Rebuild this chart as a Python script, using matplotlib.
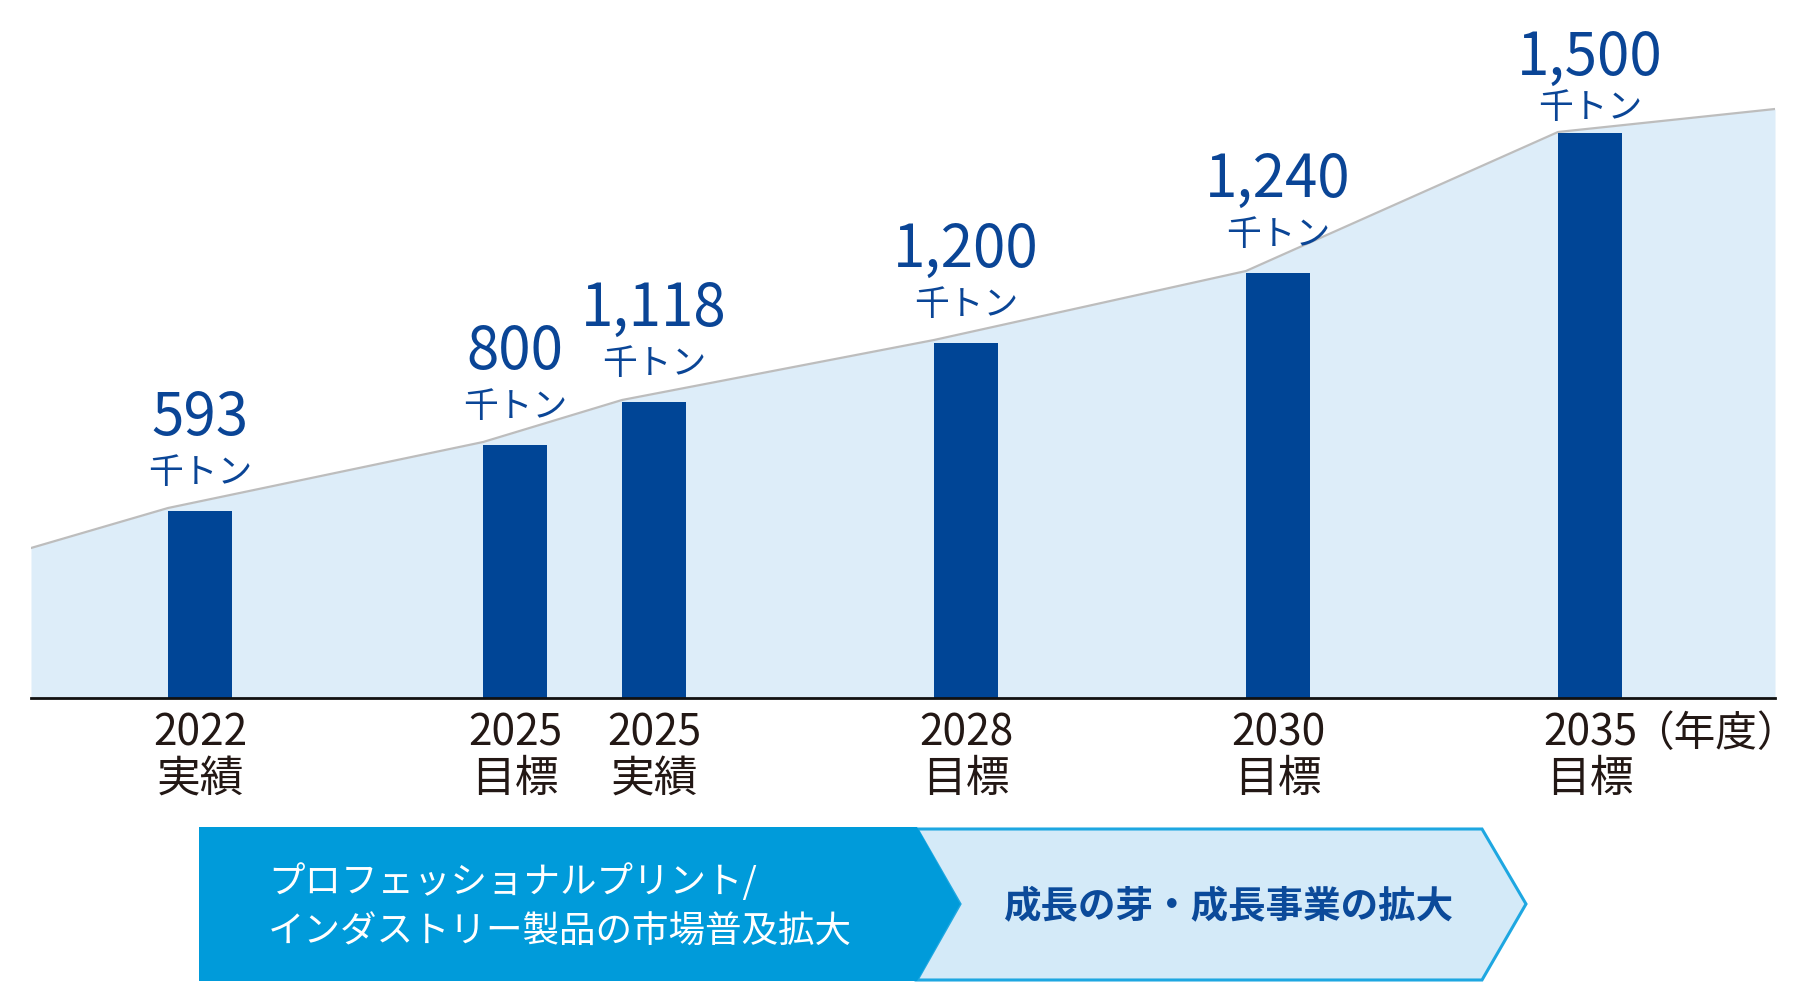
import matplotlib.pyplot as plt
from matplotlib.patches import Polygon

plt.rcParams['font.family'] = ['Noto Sans CJK JP', 'DejaVu Sans']

# data
years = ['2022', '2025', '2025', '2028', '2030', '2035']
kinds = ['実績', '目標', '実績', '目標', '目標', '目標']
values = [593, 800, 1118, 1200, 1240, 1500]
unit = '千トン'
# bar heights as drawn in the picture (the chart is not to scale)
bar_height = [187, 253, 296, 355, 425, 565]
# grey trend line: left end, one point per bar, right end
trend_height = [150, 190, 256, 298, 358, 427, 566, 589]

band_left = ['プロフェッショナルプリント/', 'インダストリー製品の市場普及拡大']
band_right = '成長の芽・成長事業の拡大'
year_unit = '（年度）'

# colours
c_bar = '#004596'
c_text = '#0A4596'
c_area = '#DDEDF9'
c_line = '#BDBDBD'
c_dark = '#009BDA'
c_light = '#D4EAF8'
c_edge = '#1EA7E1'
c_black = '#231815'

# slots: 2025 target and actual sit close together
slot = [0, 1.01, 1.455, 2.455, 3.455, 4.455]
bw = 0.205
x0, x1 = -0.5417, 5.048

fig = plt.figure(figsize=(18, 10), dpi=100)
ax = fig.add_axes([31 / 1800, 0.302, (1775 - 31) / 1800, 0.698])
ax.set_xlim(x0, x1)
ax.set_ylim(0, 698)
ax.axis('off')

tx = [x0] + [s - bw / 2 for s in slot] + [x1]
ax.fill_between(tx, trend_height, 0, color=c_area, lw=0, zorder=1)
ax.plot(tx, trend_height, color=c_line, lw=1.6, zorder=2)
ax.bar(slot, bar_height, width=bw, color=c_bar, zorder=3)
ax.axhline(0, color='#111111', lw=2, zorder=4, clip_on=False)

for i, (s, h, v) in enumerate(zip(slot, bar_height, values)):
    last = i == len(values) - 1
    num_off = 42 if last else 54.5
    unit_off = 17.5 if last else 27
    ax.annotate(f'{v:,}', (s, h), xytext=(0, num_off), textcoords='offset points',
                ha='center', va='baseline', fontsize=42, color=c_text)
    ax.annotate(unit, (s, h), xytext=(0, unit_off), textcoords='offset points',
                ha='center', va='center', fontsize=25, color=c_text)
    ax.annotate(years[i], (s, 0), xytext=(0, -25.5), textcoords='offset points',
                ha='center', va='center', fontsize=30.5, color=c_black)
    ax.annotate(kinds[i], (s, 0), xytext=(0, -58.5), textcoords='offset points',
                ha='center', va='center', fontsize=31.5, color=c_black)

# arrow bands at the bottom
ov = fig.add_axes([0, 0, 1, 1])
ov.set_xlim(0, 1800)
ov.set_ylim(1000, 0)
ov.axis('off')

ov.text(1799, 734, year_unit, ha='right', va='center', fontsize=30, color=c_black)

ov.add_patch(Polygon([(917, 829), (1482, 829), (1526, 904), (1482, 980),
                      (917, 980), (960, 904)], closed=True,
                     facecolor=c_light, edgecolor=c_edge, lw=2.2))
ov.add_patch(Polygon([(199, 827), (917, 827), (960, 904), (917, 981), (199, 981)],
                     closed=True, facecolor=c_dark, edgecolor='none'))

ov.text(268, 882, band_left[0], ha='left', va='center', fontsize=26.3, color='white')
ov.text(268, 933, band_left[1], ha='left', va='center', fontsize=26.3, color='white')
ov.text(1228, 906, band_right, ha='center', va='center', fontsize=27,
        fontweight='bold', color='#0B4A9A')

fig.savefig('out.png', dpi=100)
